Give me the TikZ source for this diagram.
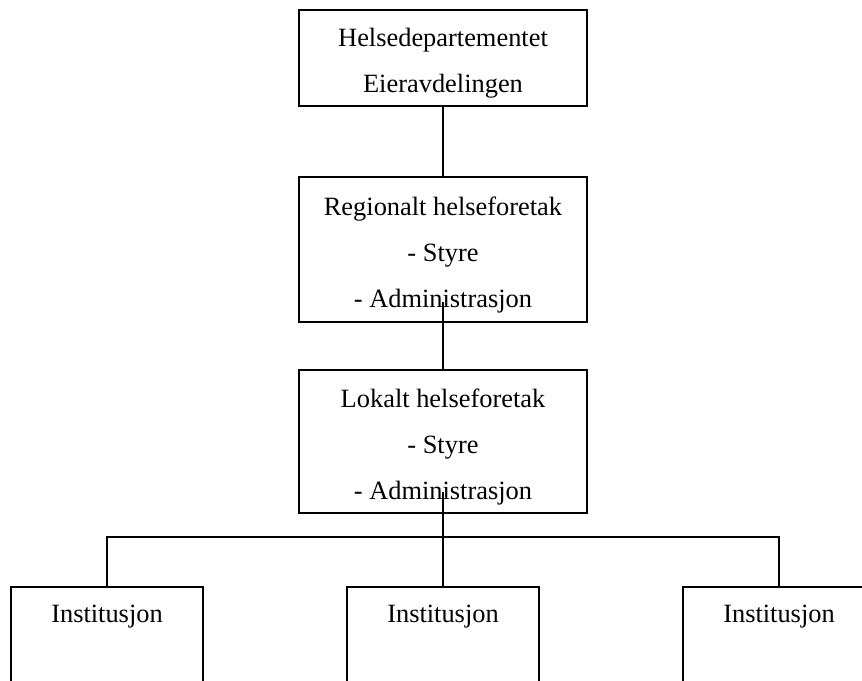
\documentclass[tikz,border=0pt]{standalone}
\usepackage{fontspec}
\setmainfont{Liberation Serif}
\usetikzlibrary{positioning}

\newcommand{\boxstrut}{\rule{0pt}{29pt}}

\begin{document}
\begin{tikzpicture}[
  x=1pt, y=-1pt,
  every node/.style={font=\fontsize{26.4}{46}\selectfont},
  orgbox/.style={draw, line width=1.6pt, inner sep=0pt, align=center, minimum width=288pt},
  instbox/.style={draw, line width=1.6pt, inner sep=0pt, minimum width=192pt,
                  text height=36pt, text depth=110pt, anchor=north},
  link/.style={line width=1.6pt}
]

% Parameters (in pixels of the reference)
\def\Cx{443}   % centre line of the chart
\def\Bus{537}  % height of the horizontal bus
\def\Iy{586}   % top of the bottom row

\useasboundingbox (0,0) rectangle (862,680);

% --- Chain of boxes ---
\node[orgbox, minimum height=96pt]  (dept)     at (\Cx,58)    {\boxstrut Helsedepartementet\\Eieravdelingen};
\node[orgbox, minimum height=145pt] (regional) at (\Cx,249.5) {\boxstrut Regionalt helseforetak\\- Styre\\- Administrasjon};
\node[orgbox, minimum height=143pt] (lokal)    at (\Cx,441.5) {\boxstrut Lokalt helseforetak\\- Styre\\- Administrasjon};

% --- Bottom row ---
\node[instbox] (inst1) at (107,\Iy) {Institusjon};
\node[instbox] (inst2) at (\Cx,\Iy) {Institusjon};
\node[instbox] (inst3) at (779,\Iy) {Institusjon};

% --- Connectors ---
\coordinate (regtail) at (\Cx,302);
\coordinate (loktail) at (\Cx,492);
\coordinate (bus)     at (\Cx,\Bus);

\draw[link] (dept.south) -- (regional.north);
\draw[link] (regtail) -- (lokal.north);
\draw[link] (loktail) -- (inst2.north);
\draw[link] (inst1.north) |- (inst3.north |- bus) -- (inst3.north);

\end{tikzpicture}
\end{document}
